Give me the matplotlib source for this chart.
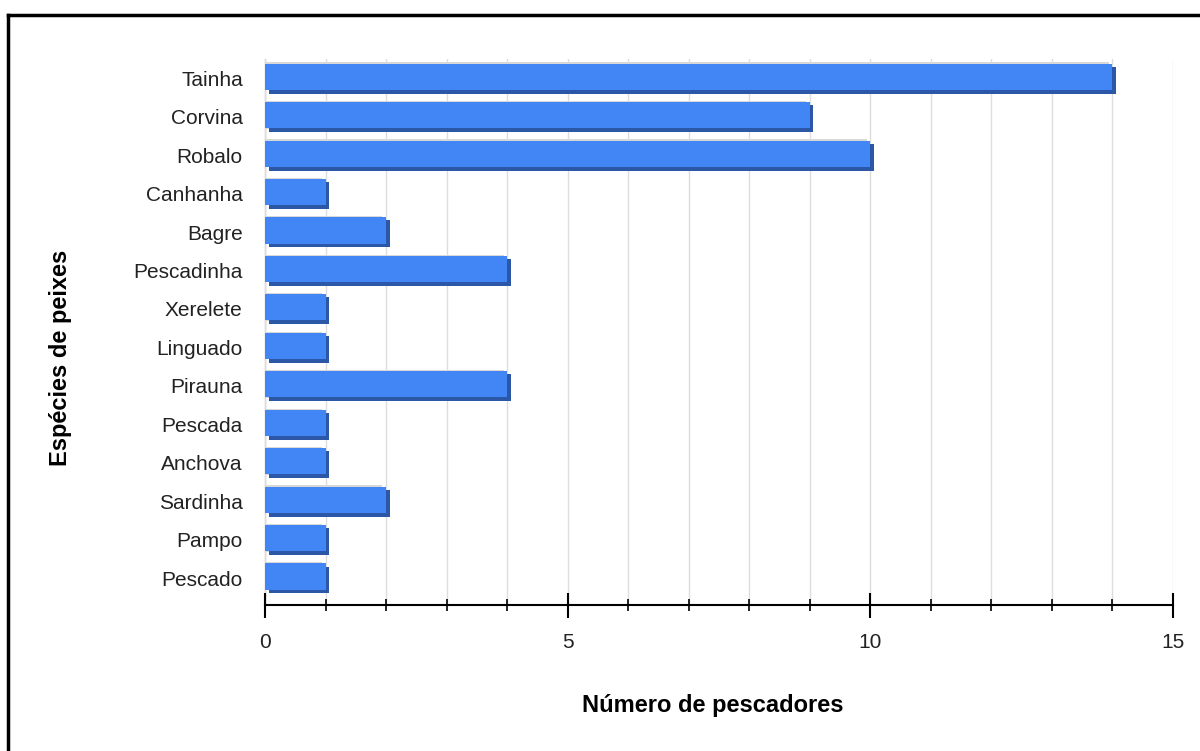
import numpy as np
import matplotlib
matplotlib.use('Agg')
from matplotlib import pyplot as plt
from matplotlib.lines import Line2D

plt.rcParams['font.family'] = ['Liberation Sans', 'DejaVu Sans']

especies = ['Tainha', 'Corvina', 'Robalo', 'Canhanha', 'Bagre', 'Pescadinha', 'Xerelete',
            'Linguado', 'Pirauna', 'Pescada', 'Anchova', 'Sardinha', 'Pampo', 'Pescado']
pescadores = [14, 9, 10, 1, 2, 4, 1, 1, 4, 1, 1, 2, 1, 1]

fig = plt.figure(figsize=(12, 7.51), dpi=100)
ax = fig.add_axes([265/1200, 1 - 605/751, 908/1200, 546/751])

y = np.arange(len(especies))
# 3D look: dark shadow behind, bright face on top
ax.barh(y + 0.05, pescadores, left=0.06, height=0.70, color='#2b57a6', zorder=3)
ax.barh(y - 0.05, pescadores, left=-0.06, height=0.72, color='#d8d8d8', zorder=2)
ax.barh(y - 0.04, pescadores, height=0.68, color='#4285f4', zorder=4)

ax.set_xlim(0, 15)
ax.set_ylim(13.7, -0.5)
ax.set_yticks(y)
ax.set_yticklabels(especies)
ax.set_xticks([0, 5, 10, 15])
ax.set_xticks(np.arange(0, 16), minor=True)
ax.grid(True, axis='x', which='both', color='#dddddd', lw=1, zorder=0)

for s in ['top', 'right']:
    ax.spines[s].set_visible(False)
ax.spines['left'].set_color('black')
ax.spines['left'].set_zorder(1)
ax.spines['bottom'].set_linewidth(1.5)

ax.tick_params(axis='y', length=0, pad=16, labelsize=15, labelcolor='#222222')
ax.tick_params(axis='x', which='major', direction='inout', length=18, width=1.5,
               pad=11, labelsize=15, labelcolor='#222222')
ax.tick_params(axis='x', which='minor', direction='inout', length=9, width=1.2)

ax.set_xlabel('Número de pescadores', fontsize=17, fontweight='bold')
ax.set_ylabel('Espécies de peixes', fontsize=17, fontweight='bold')
ax.xaxis.set_label_coords(0.4934, -0.163)
ax.yaxis.set_label_coords(-0.213, 0.452)

fig.add_artist(Line2D([8/1200, 8/1200], [0, 1 - 15/751], color='black', lw=2.5))
fig.add_artist(Line2D([8/1200, 1], [1 - 15/751, 1 - 15/751], color='black', lw=2.5))

fig.savefig('out.png', dpi=100)
